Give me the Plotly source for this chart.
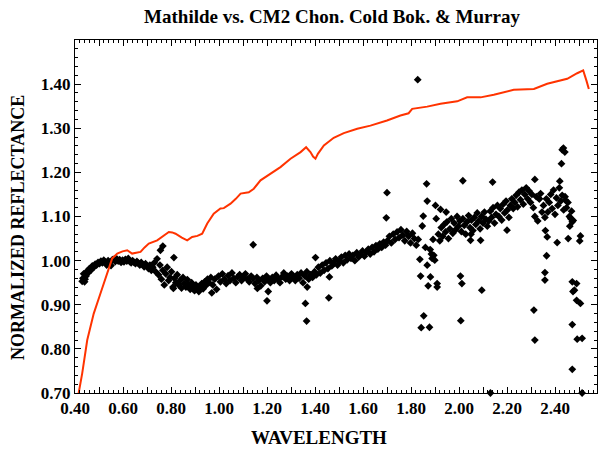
import plotly.graph_objects as go

# ---- Data ----
red_wl = [0.412, 0.430, 0.451, 0.478, 0.506, 0.534, 0.555, 0.576, 0.598, 0.6175, 0.638, 0.655, 0.673,
          0.690, 0.7075, 0.7425, 0.765, 0.791, 0.805, 0.819, 0.845, 0.8675, 0.888, 0.910, 0.930, 0.951,
          0.978, 1.006, 1.020, 1.035, 1.048, 1.070, 1.090, 1.124, 1.145, 1.173, 1.215, 1.256, 1.298,
          1.340, 1.363, 1.372, 1.381, 1.392, 1.402, 1.412, 1.423, 1.437, 1.478, 1.520, 1.576, 1.631,
          1.700, 1.756, 1.790, 1.805, 1.8675, 1.923, 1.9925, 2.034, 2.090, 2.145, 2.228, 2.312,
          2.3675, 2.451, 2.4925, 2.5175, 2.531, 2.541]
red_refl = [0.690, 0.7446, 0.820, 0.880, 0.9256, 0.971, 1.005, 1.016, 1.021, 1.0235, 1.016, 1.018, 1.0197,
            1.030, 1.0387, 1.046, 1.055, 1.065, 1.064, 1.061, 1.052, 1.046, 1.0536, 1.056, 1.061, 1.084,
            1.1066, 1.118, 1.119, 1.125, 1.129, 1.140, 1.152, 1.155, 1.163, 1.182, 1.197, 1.212, 1.231,
            1.246, 1.257, 1.252, 1.246, 1.236, 1.231, 1.242, 1.250, 1.261, 1.2785, 1.289, 1.299, 1.306,
            1.3176, 1.329, 1.334, 1.344, 1.349, 1.3554, 1.361, 1.370, 1.370, 1.376, 1.387, 1.389,
            1.4007, 1.412, 1.4247, 1.431, 1.408, 1.389]

pts_wl = [
    0.430, 0.436, 0.442, 0.448, 0.454, 0.460, 0.466, 0.472, 0.478, 0.484, 0.490, 0.496, 0.502, 0.508,
    0.514, 0.520, 0.526, 0.532, 0.538, 0.544, 0.550, 0.556, 0.433, 0.440, 0.446,
    0.562, 0.568, 0.574, 0.580, 0.586, 0.592, 0.598, 0.604, 0.610, 0.616, 0.622, 0.628, 0.634, 0.640,
    0.646, 0.652, 0.658, 0.664, 0.670, 0.676, 0.682, 0.688, 0.694, 0.700,
    0.706, 0.712, 0.718, 0.724, 0.730, 0.736, 0.742, 0.748, 0.754, 0.760, 0.766, 0.772, 0.778, 0.784,
    0.790, 0.796, 0.802, 0.808, 0.814, 0.820, 0.826, 0.832, 0.756, 0.766, 0.812, 0.810,
    0.838, 0.844, 0.850, 0.856, 0.862, 0.868, 0.874, 0.880, 0.886, 0.892, 0.898, 0.904, 0.910, 0.916,
    0.922, 0.928, 0.934, 0.940, 0.946, 0.952, 0.970,
    0.958, 0.966, 0.974, 0.982, 0.990, 0.998, 1.006, 1.014, 1.022, 1.030, 1.038, 1.046, 1.054, 1.062,
    1.070, 1.078, 1.086, 1.094, 1.102, 1.110, 1.118, 1.126, 1.134, 1.142, 1.150, 1.158, 1.166, 1.174,
    1.182, 1.190, 1.198, 1.206, 1.214, 1.222, 1.230, 1.238, 1.246, 1.254, 1.262, 1.270, 1.278, 1.286,
    1.294, 1.302, 1.310, 1.318, 1.326, 1.334, 1.342, 1.350, 1.358, 1.366, 1.374, 1.382, 1.390, 1.398,
    1.1425, 1.200, 1.360, 1.365, 1.402, 1.160, 1.205, 1.3675,
    1.406, 1.414, 1.422, 1.430, 1.438, 1.446, 1.454, 1.462, 1.470, 1.478, 1.486, 1.494, 1.502, 1.510,
    1.518, 1.526, 1.534, 1.542, 1.550, 1.558, 1.566, 1.574, 1.582, 1.590, 1.598, 1.606, 1.614, 1.622,
    1.630, 1.638, 1.646, 1.654, 1.662, 1.670, 1.678, 1.686, 1.694, 1.4575, 1.460,
    1.702, 1.710, 1.718, 1.726, 1.734, 1.742, 1.750, 1.758, 1.766, 1.774, 1.782, 1.790, 1.798, 1.806,
    1.814, 1.822, 1.830, 1.700, 1.697, 1.828,
    1.837, 1.840, 1.8425, 1.847, 1.851, 1.853, 1.865, 1.8675, 1.8675, 1.8715, 1.877, 1.881, 1.892,
    1.895, 1.899, 1.902, 1.905, 1.909, 1.909, 1.880, 1.885, 1.888, 1.860,
    1.914, 1.920, 1.926, 1.932, 1.938, 1.944, 1.950, 1.956, 1.962, 1.968, 1.974, 1.980, 1.986, 1.992,
    1.998, 2.004, 2.010, 2.016, 2.022, 2.028, 2.034, 2.040, 2.046, 2.052, 2.058, 2.064, 2.070, 2.076,
    2.082, 2.088, 2.094, 2.100, 2.106, 2.112, 2.118,
    2.016, 2.006, 2.012, 2.0075, 2.095, 1.9465, 1.923, 2.131, 2.048, 2.090, 2.050,
    2.124, 2.130, 2.136, 2.142, 2.148, 2.154, 2.160, 2.166, 2.172, 2.178, 2.184, 2.190, 2.196, 2.202,
    2.208, 2.214, 2.220, 2.226, 2.232, 2.238, 2.244, 2.250, 2.256, 2.262, 2.268, 2.274, 2.280, 2.286,
    2.292, 2.298, 2.304, 2.140, 2.200,
    2.310, 2.316, 2.322, 2.328, 2.334, 2.340, 2.346, 2.352, 2.358, 2.364, 2.370, 2.376, 2.382, 2.388,
    2.394, 2.400, 2.406, 2.412, 2.418, 2.424, 2.430, 2.436, 2.442, 2.448, 2.454, 2.460, 2.466, 2.472,
    2.316, 2.312, 2.316, 2.365, 2.358, 2.358, 2.3675, 2.360, 2.430, 2.441, 2.435, 2.427, 2.420, 2.409,
    2.455, 2.469, 2.476, 2.4617, 2.506, 2.503, 2.444, 2.472, 2.490, 2.481, 2.475, 2.490, 2.506, 2.472,
    2.4925, 2.513, 2.472, 2.513, 2.335]
pts_refl = [
    0.953, 0.970, 0.958, 0.975, 0.972, 0.982, 0.978, 0.988, 0.985, 0.992, 0.990, 0.996, 0.993, 0.999,
    0.995, 1.001, 0.997, 0.990, 1.000, 0.996, 0.989, 1.002, 0.960, 0.952, 0.965,
    1.003, 0.998, 1.004, 0.999, 1.002, 0.996, 1.001, 0.997, 1.003, 0.999, 1.005, 0.998, 0.995, 1.000,
    0.996, 0.993, 0.998, 0.994, 0.990, 0.996, 0.991, 0.986, 0.993, 0.988,
    0.982, 0.990, 0.978, 0.985, 0.995, 0.975, 1.004, 0.968, 0.990, 0.958, 0.978, 0.945, 0.970, 0.985,
    0.955, 0.962, 0.975, 0.940, 0.960, 0.950, 0.968, 0.945, 1.0235, 1.033, 1.007, 0.937,
    0.955, 0.938, 0.962, 0.948, 0.940, 0.957, 0.945, 0.935, 0.950, 0.942, 0.932, 0.945, 0.938, 0.930,
    0.940, 0.948, 0.936, 0.952, 0.944, 0.958, 0.927,
    0.950, 0.962, 0.945, 0.958, 0.935, 0.965, 0.952, 0.970, 0.958, 0.948, 0.966, 0.955, 0.972, 0.960,
    0.950, 0.963, 0.968, 0.955, 0.962, 0.970, 0.958, 0.952, 0.965, 0.960, 0.948, 0.962, 0.955, 0.943,
    0.960, 0.952, 0.965, 0.958, 0.950, 0.962, 0.955, 0.967, 0.958, 0.950, 0.963, 0.972, 0.958, 0.965,
    0.955, 0.970, 0.962, 0.955, 0.968, 0.960, 0.972, 0.950, 0.965, 0.975, 0.958, 0.968, 0.962, 0.975,
    1.036, 0.909, 0.903, 0.863, 1.007, 0.937, 0.930, 0.940,
    0.968, 0.985, 0.972, 0.990, 0.978, 0.995, 0.982, 1.000, 0.988, 0.994, 1.004, 0.990, 0.998, 1.008,
    0.995, 1.012, 1.002, 1.015, 1.005, 1.012, 1.000, 1.018, 1.008, 1.014, 1.022, 1.010, 1.020, 1.026,
    1.015, 1.030, 1.020, 1.034, 1.026, 1.038, 1.030, 1.042, 1.035, 0.9156, 0.963,
    1.045, 1.055, 1.040, 1.060, 1.048, 1.065, 1.052, 1.070, 1.058, 1.045, 1.066, 1.055, 1.040, 1.062,
    1.050, 1.035, 1.048, 1.154, 1.097, 1.410,
    1.003, 0.965, 0.848, 1.0785, 1.101, 0.875, 1.174, 1.135, 0.9896, 0.943, 0.849, 0.963, 1.048,
    1.012, 1.001, 1.125, 1.095, 0.948, 0.940, 1.025, 1.015, 1.005, 1.030,
    1.060, 1.045, 1.075, 1.055, 1.082, 1.065, 1.088, 1.050, 1.072, 1.095, 1.062, 1.085, 1.070, 1.100,
    1.078, 1.090, 1.066, 1.095, 1.080, 1.060, 1.088, 1.102, 1.075, 1.092, 1.068, 1.098, 1.082, 1.108,
    1.090, 1.072, 1.100, 1.085, 1.110, 1.094, 1.078,
    1.181, 0.965, 0.948, 0.864, 0.933, 1.110, 1.116, 0.700, 1.046, 1.046, 1.060,
    1.090, 1.112, 1.098, 1.120, 1.085, 1.105, 1.125, 1.100, 1.118, 1.092, 1.128, 1.108, 1.135, 1.115,
    1.098, 1.125, 1.140, 1.118, 1.132, 1.148, 1.122, 1.155, 1.138, 1.160, 1.128, 1.150, 1.165, 1.140,
    1.158, 1.132, 1.150, 1.178, 1.069,
    1.120, 1.100, 1.145, 1.090, 1.140, 1.152, 1.110, 1.125, 1.098, 1.140, 1.110, 1.132, 1.150, 1.118,
    1.160, 1.105, 1.142, 1.125, 1.165, 1.135, 1.148, 1.115, 1.145, 1.120, 1.132, 1.100, 1.095, 1.088,
    1.184, 0.888, 0.820, 1.011, 0.973, 0.956, 1.0536, 1.068, 1.2513, 1.246, 1.255, 1.2197, 1.180, 1.041,
    1.050, 1.112, 1.091, 1.078, 1.056, 1.0446, 1.1367, 0.952, 0.948, 0.933, 0.930, 0.910, 0.903, 0.855,
    0.822, 0.824, 0.7536, 0.700, 1.140]

x_tickvals = [0.4, 0.5, 0.6, 0.7, 0.8, 0.9, 1.0, 1.1, 1.2, 1.3, 1.4, 1.5, 1.6, 1.7, 1.8, 1.9, 2.0,
              2.1, 2.2, 2.3, 2.4, 2.5]
x_ticktext = ["0.40", "", "0.60", "", "0.80", "", "1.00", "", "1.20", "", "1.40", "", "1.60", "",
              "1.80", "", "2.00", "", "2.20", "", "2.40", ""]
y_tickvals = [0.7, 0.8, 0.9, 1.0, 1.1, 1.2, 1.3, 1.4, 1.5]
y_ticktext = ["0.70", "0.80", "0.90", "1.00", "1.10", "1.20", "1.30", "1.40", ""]

SERIF = "Liberation Serif, Times New Roman, serif"

fig = go.Figure()
fig.add_trace(go.Scatter(x=pts_wl, y=pts_refl, mode="markers",
                         marker=dict(symbol="diamond", size=6, color="black", line=dict(width=0)),
                         cliponaxis=False, showlegend=False))
fig.add_trace(go.Scatter(x=red_wl, y=red_refl, mode="lines",
                         line=dict(color="#ff3300", width=2), showlegend=False))

axis_common = dict(showline=True, linecolor="black", linewidth=1, mirror="allticks",
                   ticks="inside", ticklen=6, tickcolor="black", showgrid=False, zeroline=False,
                   tickfont=dict(family=SERIF, size=17, color="black", weight="bold"))

fig.update_xaxes(range=[0.4, 2.575], tickmode="array", tickvals=x_tickvals, ticktext=x_ticktext,
                 minor=dict(ticks="inside", ticklen=3, dtick=0.02, tick0=0.4, tickcolor="black",
                            showgrid=False),
                 **axis_common)
fig.update_yaxes(range=[0.7, 1.5], tickmode="array", tickvals=y_tickvals, ticktext=y_ticktext,
                 minor=dict(ticks="inside", ticklen=3, dtick=0.02, tick0=0.7, tickcolor="black",
                            showgrid=False),
                 **axis_common)

fig.update_layout(
    width=601, height=450,
    margin=dict(l=75, r=4, t=40, b=57),
    paper_bgcolor="white", plot_bgcolor="white",
    title=dict(text="Mathilde vs. CM2 Chon. Cold Bok. & Murray", x=332 / 601, xanchor="center",
               y=1 - 16 / 450, yanchor="middle",
               font=dict(family=SERIF, size=19, color="black", weight="bold")),
    annotations=[
        dict(text="WAVELENGTH", xref="paper", yref="paper", x=(319 - 75) / 522, y=-(438 - 393) / 353,
             xanchor="center", yanchor="middle", showarrow=False,
             font=dict(family=SERIF, size=19, color="black", weight="bold")),
        dict(text="NORMALIZED REFLECTANCE", xref="paper", yref="paper", x=(18 - 75) / 522,
             y=(393 - 228) / 353, xanchor="center", yanchor="middle", textangle=-90, showarrow=False,
             font=dict(family=SERIF, size=18, color="black", weight="bold")),
    ],
)

fig.write_html("out.html", config={"displayModeBar": False},
               post_script="document.body.style.margin='0';document.body.style.overflow='hidden';")
